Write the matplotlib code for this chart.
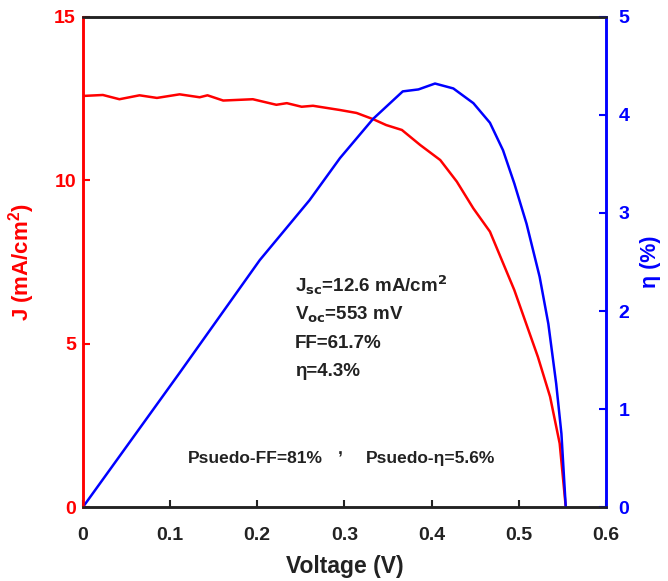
import matplotlib.pyplot as plt
from matplotlib import rcParams

rcParams['font.family'] = ['Liberation Sans', 'DejaVu Sans']
rcParams['font.weight'] = 'bold'
rcParams['mathtext.default'] = 'regular'

# J-V curve
v_j = [0.0, 0.023, 0.042, 0.065, 0.085, 0.111, 0.134, 0.143, 0.161, 0.195,
       0.222, 0.234, 0.251, 0.264, 0.295, 0.314, 0.333, 0.348, 0.366, 0.387,
       0.41, 0.429, 0.448, 0.467, 0.495, 0.522, 0.536, 0.547, 0.554]
j_vals = [12.58, 12.61, 12.48, 12.6, 12.52, 12.63, 12.54, 12.6, 12.44, 12.48,
          12.31, 12.36, 12.25, 12.28, 12.15, 12.06, 11.87, 11.69, 11.54, 11.08,
          10.62, 9.96, 9.14, 8.43, 6.64, 4.6, 3.38, 1.95, 0.0]

# efficiency curve
v_eta = [0.0, 0.111, 0.203, 0.26, 0.295, 0.333, 0.367, 0.385, 0.404, 0.425,
         0.448, 0.467, 0.482, 0.495, 0.509, 0.524, 0.534, 0.543, 0.549, 0.554]
eta_vals = [0.0, 1.37, 2.52, 3.13, 3.56, 3.96, 4.24, 4.26, 4.32, 4.27,
            4.12, 3.92, 3.64, 3.30, 2.89, 2.35, 1.87, 1.26, 0.75, 0.0]

x_ticks = [0, 0.1, 0.2, 0.3, 0.4, 0.5, 0.6]
x_labels = ['0', '0.1', '0.2', '0.3', '0.4', '0.5', '0.6']
j_ticks = [0, 5, 10, 15]
eta_ticks = [0, 1, 2, 3, 4, 5]

red = '#ff0000'
blue = '#0000ff'
dark = '#222222'

fig = plt.figure(figsize=(6.68, 5.81), dpi=100)
ax = fig.add_axes([0.124, 0.127, 0.783, 0.844])
ax2 = ax.twinx()

ax.plot(v_j, j_vals, color=red, linewidth=1.8, zorder=3)
ax2.plot(v_eta, eta_vals, color=blue, linewidth=1.8)

ax.set_xlim(0, 0.6)
ax.set_ylim(0, 15)
ax2.set_ylim(0, 5)

ax.set_xticks(x_ticks)
ax.set_xticklabels(x_labels)
ax.set_yticks(j_ticks)
ax2.set_yticks(eta_ticks)

ax.tick_params(axis='x', direction='in', length=5, width=1.5, pad=14,
               labelsize=14, colors=dark)
ax.tick_params(axis='y', direction='in', length=5, width=1.5, pad=5,
               labelsize=14, colors=red)
ax2.tick_params(axis='y', direction='in', length=5, width=1.5, pad=9,
                labelsize=14, colors=blue)

for a in (ax, ax2):
    a.spines['top'].set_color(dark)
    a.spines['bottom'].set_color(dark)
    a.spines['left'].set_color(red)
    a.spines['right'].set_color(blue)
    for s in a.spines.values():
        s.set_linewidth(1.8)

ax.set_xlabel('Voltage (V)', fontsize=16.5, fontweight='bold', color=dark, labelpad=8)
ax.set_ylabel('J (mA/cm$^2$)', fontsize=16, fontweight='bold', color=red, labelpad=12)
ax2.set_ylabel('η (%)', fontsize=15.5, fontweight='bold', color=blue, labelpad=8)

txt = dict(fontsize=13.5, fontweight='bold', color=dark, va='center')
ax.text(0.243, 6.8, r'J$_{\mathbf{sc}}$=12.6 mA/cm$^{\mathbf{2}}$', **txt)
ax.text(0.243, 5.9, r'V$_{\mathbf{oc}}$=553 mV', **txt)
ax.text(0.243, 5.0, 'FF=61.7%', **txt)
ax.text(0.243, 4.15, 'η=4.3%', **txt)
small = dict(txt, fontsize=12.5)
ax.text(0.120, 1.5, 'Psuedo-FF=81%', **small)
ax.text(0.293, 1.75, ',', **small)
ax.text(0.325, 1.5, 'Psuedo-η=5.6%', **small)

fig.savefig('out.png', dpi=100)
